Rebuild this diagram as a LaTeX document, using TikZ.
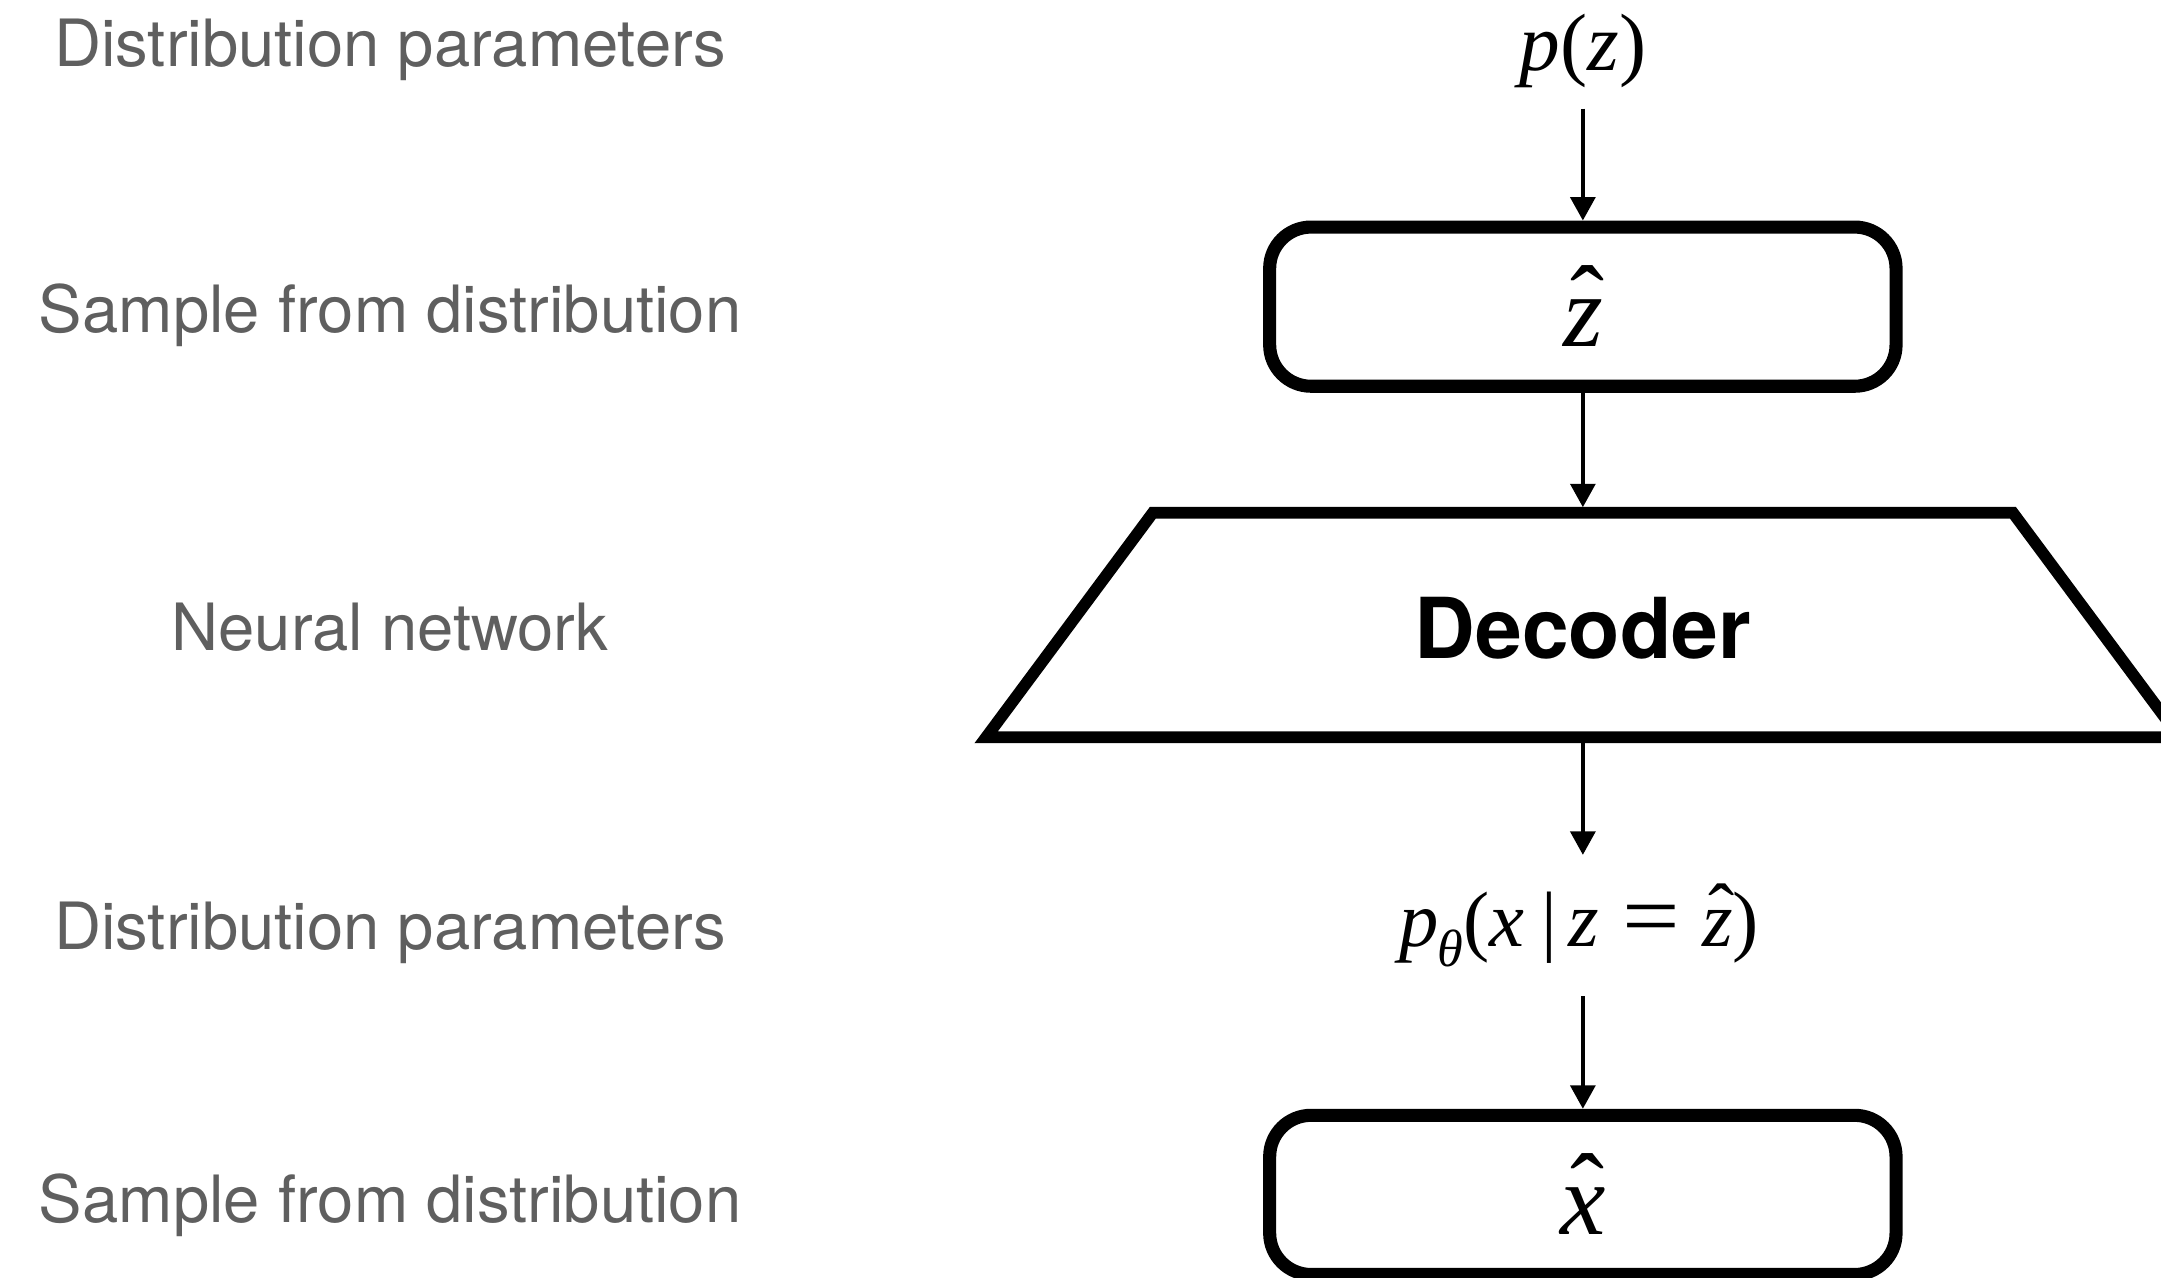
\documentclass[tikz,border=0pt]{standalone}
\usepackage{fontspec}
\usepackage{graphicx}
\setmainfont{Liberation Serif}
\newfontfamily\labelfont{TeX Gyre Heros}
\usetikzlibrary{arrows.meta}
\definecolor{labelgray}{RGB}{95,95,95}
% italic letter with a circumflex set above it, nudged right for the slant
\newcommand\withhat[1]{{\ooalign{\itshape #1\cr\hidewidth\kern0.1em\raisebox{0.1em}{\char"02C6}\hidewidth\cr}}}
% a wider equals sign, as in displayed formulas
\newcommand\wideeq{\scalebox{1.3}[1.15]{=}}
\begin{document}
\begin{tikzpicture}[x=1pt,y=-1pt,
  sidelabel/.style={font=\labelfont\fontsize{47.3}{56}\selectfont, text=labelgray, anchor=base, inner sep=0pt},
  mathlabel/.style={font=\fontsize{59}{68}\selectfont, anchor=base, inner sep=0pt},
  samplebox/.style={draw, line width=9.5pt, rounded corners=30pt, minimum width=454.5pt, minimum height=115.5pt, inner sep=0pt, text height=58pt, text depth=0pt, font=\fontsize{74}{84}\selectfont},
  netshape/.style={draw, line width=8.5pt, line join=miter},
  arr/.style={-{Triangle[length=17pt,width=18pt]}, line width=2.8pt}
]
\useasboundingbox (0,0) rectangle (1568,926.6);

% left column: what each stage stands for
\node[sidelabel] (l1) at (283,48)  {Distribution parameters};
\node[sidelabel] (l2) at (283,241) {Sample from distribution};
\node[sidelabel] (l3) at (283,472) {Neural network};
\node[sidelabel] (l4) at (283,689) {Distribution parameters};
\node[sidelabel] (l5) at (283,887) {Sample from distribution};

% right column: the generative path
\node[mathlabel] (pz) at (1148.5,51) {\textit{p}(\textit{z})};
\node[samplebox] (zbox) at (1148.5,222.5) {\withhat{z}};

\node[anchor=base, inner sep=0pt, font=\labelfont\bfseries\fontsize{61}{70}\selectfont] (dec) at (1148.5,478) {Decoder};
\draw[netshape] (836.5,372) -- (1460.5,372) -- (1581.5,535) -- (715.5,535) -- cycle;
\coordinate (dectop) at (1148.5,368);
\coordinate (decbot) at (1148.5,539);

\node[mathlabel, font=\fontsize{57}{66}\selectfont] (pd) at (1146,687)
  {\textit{p}\kern-0.02em\raisebox{-0.25em}{\fontsize{38}{42}\selectfont\textit{θ}}(\textit{x}\kern0.22em|\kern0.14em\textit{z}\kern0.3em\wideeq\kern0.28em\withhat{z})};
\node[samplebox] (xbox) at (1148.5,867) {\withhat{x}};

% connectors
\draw[arr, shorten <=15pt] (pz) -- (zbox);
\draw[arr] (zbox) -- (dectop);
\draw[arr, shorten >=27pt] (decbot) -- (decbot |- pd.north);
\draw[arr, shorten <=21pt] (pd.south -| decbot) -- (xbox);
\end{tikzpicture}
\end{document}
